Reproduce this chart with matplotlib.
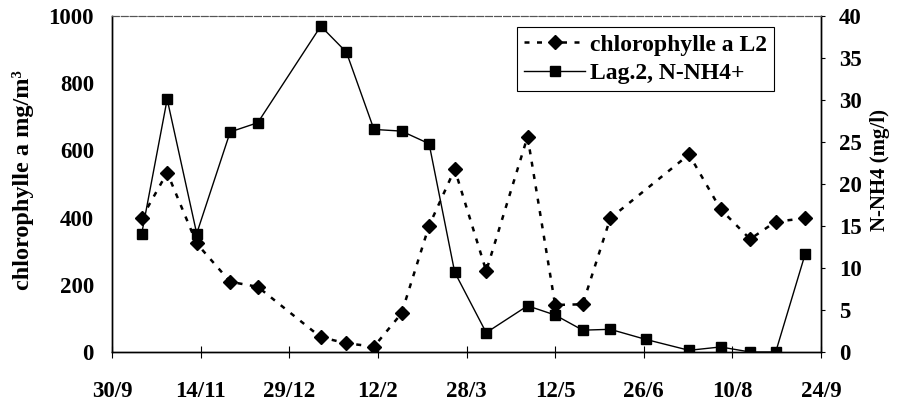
import datetime as dt

import matplotlib
matplotlib.use("Agg")
import matplotlib.dates as mdates
from matplotlib import pyplot as plt
from matplotlib.ticker import FuncFormatter

plt.rcParams['font.family'] = ['Liberation Serif', 'DejaVu Serif']
plt.rcParams['font.weight'] = 'bold'

# sampling dates (lagoon station 2)
nh4_dates = ['1999-10-15', '1999-10-28', '1999-11-12', '1999-11-29', '1999-12-13',
             '2000-01-14', '2000-01-27', '2000-02-10', '2000-02-24', '2000-03-09',
             '2000-03-22', '2000-04-07', '2000-04-28', '2000-05-12', '2000-05-26',
             '2000-06-09', '2000-06-27', '2000-07-19', '2000-08-04', '2000-08-19',
             '2000-09-01', '2000-09-16']
nh4_values = [14.0, 30.1, 14.1, 26.2, 27.3, 38.8, 35.7, 26.5, 26.3, 24.8,
              9.5, 2.3, 5.5, 4.4, 2.6, 2.7, 1.5, 0.2, 0.6, 0.0, 0.0, 11.7]

# no chlorophyll sample on 27/6
chl_dates = [d for d in nh4_dates if d != '2000-06-27']
chl_values = [398, 534, 323, 209, 194, 44, 26, 16, 115, 376,
              544, 241, 641, 140, 142, 398, 588, 425, 336, 388, 398]

start = dt.date(1999, 9, 30)
end = dt.date(2000, 9, 24)
tick_dates = [start + dt.timedelta(days=45 * k) for k in range(9)]


def to_date(s):
    return dt.datetime.strptime(s, '%Y-%m-%d').date()


fig = plt.figure(figsize=(9.02, 4.01), dpi=100)
ax = fig.add_axes([0.1242, 0.1222, 0.7860, 0.8378])
ax2 = ax.twinx()

l1, = ax.plot([to_date(d) for d in chl_dates], chl_values, color='black',
              linewidth=1.8, dashes=(2, 3), marker='D', markersize=7,
              label='chlorophylle a L2')
l2, = ax2.plot([to_date(d) for d in nh4_dates], nh4_values, color='black',
               linewidth=1.0, marker='s', markersize=7,
               label='Lag.2, N-NH4+')

ax.set_xlim(start, end)
ax.set_ylim(0, 1000)
ax2.set_ylim(0, 40)
ax.set_yticks(range(0, 1001, 200))
ax2.set_yticks(range(0, 41, 5))
ax.set_xticks(tick_dates)
ax.xaxis.set_major_formatter(
    FuncFormatter(lambda v, pos: '{}/{}'.format(mdates.num2date(v).day, mdates.num2date(v).month)))

ax.tick_params(axis='x', direction='inout', length=8, width=0.8, pad=17, labelsize=16.5)
ax.tick_params(axis='y', length=0, pad=13, labelsize=16.5)
ax2.tick_params(axis='y', length=3, width=0.8, pad=10, labelsize=16.5)

for a in (ax, ax2):
    for side in ('left', 'right', 'bottom'):
        a.spines[side].set_linewidth(1.0)
    a.spines['top'].set_linewidth(0.8)
    a.spines['top'].set_linestyle((0, (6, 2)))
    a.spines['top'].set_color('#555555')

fig.text(23 / 902, 1 - 180 / 401, 'chlorophylle a mg/m³', rotation=90,
         ha='center', va='center', fontsize=17.5, fontweight='bold')
fig.text(880 / 902, 1 - 170 / 401, 'N-NH4 (mg/l)', rotation=90,
         ha='center', va='center', fontsize=15, fontweight='bold')

leg = ax2.legend(handles=[l1, l2], loc='upper right', bbox_to_anchor=(0.934, 0.967),
                 borderaxespad=0, fancybox=False, framealpha=1, edgecolor='black',
                 prop={'size': 17, 'weight': 'bold'}, handlelength=2.6,
                 handletextpad=0.2, borderpad=0.3, labelspacing=0.3)
leg.get_frame().set_linewidth(0.8)

fig.savefig('out.png', dpi=100)
